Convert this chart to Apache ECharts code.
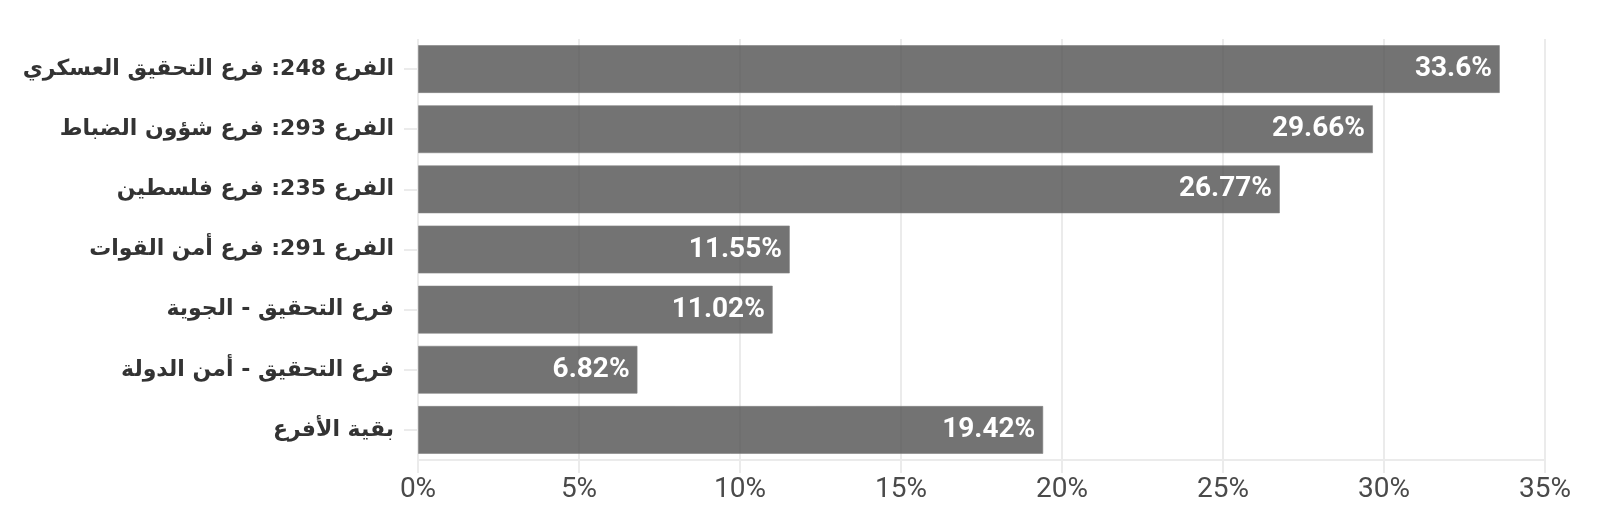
<!DOCTYPE html>
<html><head><meta charset="utf-8">
<script src="https://cdn.jsdelivr.net/npm/echarts@6/dist/echarts.min.js"></script>
<style>html,body{margin:0;padding:0;background:#fff}#c{width:1600px;height:530px}</style>
</head><body><div id="c"></div>
<script>
var categories = ["الفرع 248: فرع التحقيق العسكري","الفرع 293: فرع شؤون الضباط","الفرع 235: فرع فلسطين","الفرع 291: فرع أمن القوات","فرع التحقيق - الجوية","فرع التحقيق - أمن الدولة","بقية الأفرع"];
var values = [33.6, 29.66, 26.77, 11.55, 11.02, 6.82, 19.42];
var xTicks = [0, 5, 10, 15, 20, 25, 30, 35];

var chart = echarts.init(document.getElementById('c'));
chart.setOption({
  animation: false,
  grid: {left: 418, right: 55, top: 39, bottom: 70},
  xAxis: {
    type: 'value', min: xTicks[0], max: xTicks[xTicks.length-1], interval: 5,
    axisLine: {show: true, lineStyle: {color: '#ebebeb', width: 2}},
    axisTick: {show: true, length: 13, lineStyle: {color: '#ebebeb', width: 2}},
    splitLine: {show: true, lineStyle: {color: '#ebebeb', width: 2}},
    axisLabel: {formatter: '{value}%', fontSize: 28, color: '#4a4a4a', fontFamily: 'Roboto', margin: 16}
  },
  yAxis: {
    type: 'category', data: categories, inverse: true,
    axisLine: {show: false},
    axisTick: {show: true, length: 14, lineStyle: {color: '#ebebeb', width: 2}, alignWithLabel: true},
    axisLabel: {fontSize: 22, fontWeight: 'bold', color: '#333', fontFamily: 'DejaVu Sans', margin: 24}
  },
  series: [{
    type: 'bar', data: values, barWidth: '80%',
    itemStyle: {color: 'rgba(77,77,77,0.79)', borderColor: 'rgba(130,130,130,0.6)', borderWidth: 1},
    label: {show: true, position: 'insideRight', distance: 8, formatter: function(p){return p.value + '%';},
      color: '#ffffff', fontSize: 28, fontWeight: 'bold', fontFamily: 'Roboto'}
  }]
});
</script></body></html>
